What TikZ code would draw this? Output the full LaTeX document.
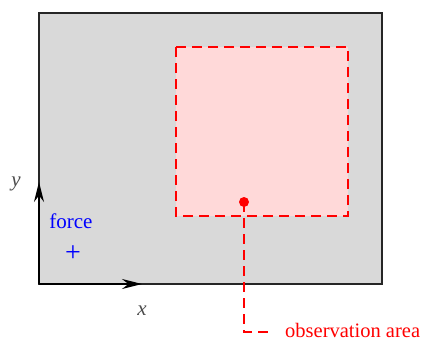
\documentclass[tikz,border=0pt]{standalone}
\usepackage{fontspec}
\setmainfont{Liberation Serif}
\usetikzlibrary{arrows.meta}

\begin{document}
\begin{tikzpicture}[x=1pt, y=-1pt, >={Stealth[length=20pt,width=10pt]},
    every node/.style={font=\fontsize{21}{25}\selectfont}]
    \useasboundingbox (0,0) rectangle (428,340);

    % 区域
    \fill[gray!30] (39,13) rectangle (382,284);
    \draw[line width=1.6pt, black!85] (39,13) rectangle (382,284);

    % 观测区域
    \fill[red!15] (176,47) rectangle (348,216);
    \draw[red, dashed, line width=1.4pt, dash pattern=on 10pt off 6pt] (176,47) rectangle (348,216);

    % 坐标轴
    \coordinate (O) at (39,284);
    \draw[->, line width=1.6pt] (O) -- (39,182);
    \draw[->, line width=1.6pt] (O) -- (142,284);
    \node[text=black!70] (ylab) at (16,184) {\textit{y}};
    \node[text=black!70] (xlab) at (142,311) {\textit{x}};

    % 力
    \node[text=blue] (force) at (71,221) {force};
    \node[text=blue, font=\fontsize{28}{30}\selectfont] (plus) at (73,254) {+};

    % 观测点与标注
    \coordinate (P) at (244,202);
    \coordinate (corner) at (244,332);
    \node[text=red, anchor=base west, inner sep=0pt, font=\fontsize{20.5}{24}\selectfont] (obs) at (285,337) {observation area};
    \draw[red, line width=1.4pt, dash pattern=on 10pt off 6pt] (P) -- (corner) -- ([xshift=-12pt]obs.west |- corner);
    \fill[red] (P) circle (5pt);
\end{tikzpicture}
\end{document}
